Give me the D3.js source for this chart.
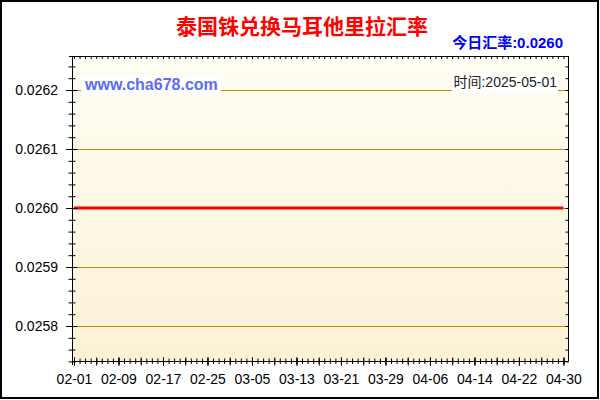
<!DOCTYPE html>
<html>
<head>
<meta charset="utf-8">
<script src="https://cdn.jsdelivr.net/npm/d3@7"></script>
<style>
  html, body { margin: 0; padding: 0; background: #fff; }
  svg { display: block; }
  text { font-family: "Liberation Sans", Arial, "Noto Sans CJK SC", sans-serif; }
</style>
</head>
<body>
<svg id="chart" width="600" height="400"></svg>
<script>
// ---- data ----
const titleText = "泰国铢兑换马耳他里拉汇率";
const todayText = "今日汇率:0.0260";
const timeText = "时间:2025-05-01";
const watermark = "www.cha678.com";
const startDate = "2025-02-01";
const endDate = "2025-05-01";
const xTickLabels = ["02-01","02-09","02-17","02-25","03-05","03-13","03-21","03-29","04-06","04-14","04-22","04-30"];
const yTickValues = [0.0258, 0.0259, 0.0260, 0.0261, 0.0262];
const rateValues = [
  0.0260,0.0260,0.0260,0.0260,0.0260,0.0260,0.0260,0.0260,0.0260,0.0260,
  0.0260,0.0260,0.0260,0.0260,0.0260,0.0260,0.0260,0.0260,0.0260,0.0260,
  0.0260,0.0260,0.0260,0.0260,0.0260,0.0260,0.0260,0.0260,0.0260,0.0260,
  0.0260,0.0260,0.0260,0.0260,0.0260,0.0260,0.0260,0.0260,0.0260,0.0260,
  0.0260,0.0260,0.0260,0.0260,0.0260,0.0260,0.0260,0.0260,0.0260,0.0260,
  0.0260,0.0260,0.0260,0.0260,0.0260,0.0260,0.0260,0.0260,0.0260,0.0260,
  0.0260,0.0260,0.0260,0.0260,0.0260,0.0260,0.0260,0.0260,0.0260,0.0260,
  0.0260,0.0260,0.0260,0.0260,0.0260,0.0260,0.0260,0.0260,0.0260,0.0260,
  0.0260,0.0260,0.0260,0.0260,0.0260,0.0260,0.0260,0.0260,0.0260
];

// ---- layout ----
const plotL = 73, plotR = 568.5, plotT = 56, plotB = 361;
const svg = d3.select("#chart");
const parse = d3.utcParse("%Y-%m-%d");
const d0 = parse(startDate), d1 = parse(endDate);
const dates = d3.utcDay.range(d0, d1); // 02-01 .. 04-30
const series = dates.map((d, i) => ({ date: d, value: rateValues[i] }));
const labelDates = xTickLabels.map(s => parse("2025-" + s));

const x = d3.scaleUtc().domain([d0, d1]).range([74, 569]);
const y = d3.scaleLinear().domain([0.0258, 0.0262]).range([326, 90]);

// background + outer border
svg.append("rect").attr("x", 0).attr("y", 0).attr("width", 600).attr("height", 400).attr("fill", "#fff");
svg.append("rect").attr("x", 1).attr("y", 1).attr("width", 597).attr("height", 397)
  .attr("fill", "none").attr("stroke", "#000").attr("stroke-width", 2);

// gradient plot area
const defs = svg.append("defs");
const grad = defs.append("linearGradient").attr("id", "bg").attr("x1", 0).attr("y1", 0).attr("x2", 0).attr("y2", 1);
grad.append("stop").attr("offset", "0%").attr("stop-color", "#FFFEF4");
grad.append("stop").attr("offset", "100%").attr("stop-color", "#FCF1D6");
svg.append("rect").attr("x", plotL).attr("y", plotT).attr("width", plotR - plotL).attr("height", plotB - plotT)
  .attr("fill", "url(#bg)");

// grid lines
svg.append("g").selectAll("line").data(yTickValues).join("line")
  .attr("x1", plotL).attr("x2", plotR)
  .attr("y1", d => Math.round(y(d)) + 0.5).attr("y2", d => Math.round(y(d)) + 0.5)
  .attr("stroke", "#C08C00").attr("stroke-width", 1);

// title
svg.append("text").attr("x", 302).attr("y", 34).attr("text-anchor", "middle")
  .attr("font-size", 21).attr("font-weight", "bold").attr("fill", "#FF0000")
  .style("font-family", "'Noto Sans CJK SC', sans-serif").text(titleText);
svg.append("text").attr("x", 563).attr("y", 48).attr("text-anchor", "end")
  .attr("font-size", 15).attr("font-weight", "bold").attr("fill", "#0000FF").text(todayText);

// watermark & time label with white boxes
svg.append("rect").attr("x", 81).attr("y", 75).attr("width", 140).attr("height", 20).attr("fill", "#fff");
svg.append("text").attr("x", 85).attr("y", 90).attr("font-size", 16).attr("font-weight", "bold")
  .attr("fill", "#5B6CF7").text(watermark);
svg.append("rect").attr("x", 452).attr("y", 74).attr("width", 106).attr("height", 20).attr("fill", "#fff");
svg.append("text").attr("x", 557).attr("y", 87).attr("text-anchor", "end").attr("font-size", 14)
  .attr("fill", "#222").text(timeText);

// red line
const line = d3.line().x(d => x(d.date)).y(d => y(d.value));
svg.append("path").datum(series).attr("d", line).attr("fill", "none")
  .attr("stroke", "#FF0000").attr("stroke-width", 3);

// frame top and right
svg.append("line").attr("x1", 69).attr("x2", plotR).attr("y1", plotT + 0.5).attr("y2", plotT + 0.5)
  .attr("stroke", "#000").attr("stroke-width", 1);
svg.append("line").attr("x1", plotR).attr("x2", plotR).attr("y1", plotT).attr("y2", plotB + 0.5)
  .attr("stroke", "#000").attr("stroke-width", 1);

// minor y ticks values
const minorY = d3.range(0, 27).map(i => +(0.02574 + i * 0.00002).toFixed(5))
  .filter(v => y(v) >= plotT && y(v) <= plotB + 1);

// left axis minor ticks
const leftMinor = svg.append("g").attr("transform", `translate(${plotL - 0.5},0)`)
  .call(d3.axisLeft(y).tickValues(minorY).tickSize(4).tickFormat(""));
leftMinor.select(".domain").remove();
leftMinor.selectAll(".tick line").attr("x1", 3).attr("stroke", "#000");

// left axis major ticks + labels
const leftAxis = svg.append("g").attr("transform", `translate(${plotL - 0.5},0)`)
  .call(d3.axisLeft(y).tickValues(yTickValues).tickSize(6.5).tickPadding(8).tickSizeOuter(0)
    .tickFormat(d3.format(".4f")));
leftAxis.select(".domain").attr("d", `M0,${plotT}V${plotB + 4}`).attr("stroke", "#000");
leftAxis.selectAll(".tick line").attr("x1", 5).attr("stroke", "#000");
leftAxis.selectAll(".tick text").attr("font-size", 14).attr("fill", "#000")
  .style("font-family", "'Liberation Sans', Arial, sans-serif");

// right border ticks (inward)
const rightAxis = svg.append("g").attr("transform", `translate(${plotR},0)`)
  .call(d3.axisLeft(y).tickValues(minorY).tickSize(3).tickFormat(""));
rightAxis.select(".domain").remove();
rightAxis.selectAll(".tick line").attr("stroke", "#000");

// bottom axis: daily minor ticks
const quarterDates = dates.filter((d, i) => i % 4 === 0);
const bottomMinor = svg.append("g").attr("transform", `translate(0,${plotB + 0.5})`)
  .call(d3.axisBottom(x).tickValues(dates).tickSize(2.5).tickFormat(""));
bottomMinor.select(".domain").remove();
bottomMinor.selectAll(".tick line").attr("y1", -3).attr("stroke", "#000");

// bottom axis: 4-day ticks
const bottomMid = svg.append("g").attr("transform", `translate(0,${plotB + 0.5})`)
  .call(d3.axisBottom(x).tickValues(quarterDates).tickSize(4).tickFormat(""));
bottomMid.select(".domain").remove();
bottomMid.selectAll(".tick line").attr("y1", -4).attr("stroke", "#000");

// bottom axis: labels
const bottomAxis = svg.append("g").attr("transform", `translate(0,${plotB + 0.5})`)
  .call(d3.axisBottom(x).tickValues(labelDates).tickSize(4).tickPadding(9).tickSizeOuter(0)
    .tickFormat(d3.utcFormat("%m-%d")));
bottomAxis.select(".domain").attr("d", `M${plotL - 0.5},0H${plotR}`).attr("stroke", "#000");
bottomAxis.selectAll(".tick line").attr("y1", -4).attr("stroke", "#000");
bottomAxis.selectAll(".tick text").attr("font-size", 14).attr("fill", "#000")
  .style("font-family", "'Liberation Sans', Arial, sans-serif");

// top border daily ticks (inward)
const topAxis = svg.append("g").attr("transform", `translate(0,${plotT})`)
  .call(d3.axisBottom(x).tickValues(dates).tickSize(3).tickFormat(""));
topAxis.select(".domain").remove();
topAxis.selectAll(".tick line").attr("stroke", "#000");
</script>
</body>
</html>
